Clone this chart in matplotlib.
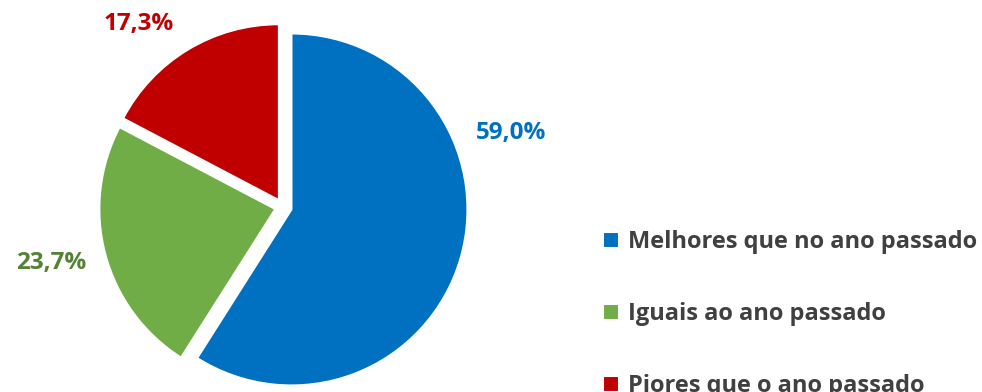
import matplotlib
matplotlib.use("Agg")
import matplotlib.pyplot as plt

categories = ["Melhores que no ano passado", "Iguais ao ano passado", "Piores que o ano passado"]
values = [59.0, 23.7, 17.3]
value_labels = ["59,0%", "23,7%", "17,3%"]
colors = ["#0070C0", "#70AD47", "#C00000"]
label_colors = ["#0070C0", "#548235", "#C00000"]

plt.rcParams['font.family'] = ['Open Sans', 'DejaVu Sans']

W, H = 982, 392
fig = plt.figure(figsize=(W / 100, H / 100), dpi=100)

R = 176.0
cx, cy = 283.0, 207.0
lim = 1.2
side = 2 * lim * R
ax = fig.add_axes([(cx - side / 2) / W, ((H - cy) - side / 2) / H, side / W, side / H])

wedges, _ = ax.pie(values, colors=colors, startangle=90, counterclock=False,
                   explode=[0.05, 0.045, 0.045], radius=1.0,
                   wedgeprops=dict(edgecolor="white", linewidth=1.5))
ax.set_xlim(-lim, lim)
ax.set_ylim(-lim, lim)
ax.set_aspect('equal')
ax.axis('off')

label_pos = [(1.295, 0.42), (-1.318, -0.318), (-0.818, 1.04)]
for (x, y), t, c in zip(label_pos, value_labels, label_colors):
    ax.text(x, y, t, color=c, fontsize=17.5, fontweight='bold', ha='center', va='center')

leg = fig.legend(wedges, categories, loc='upper left',
                 bbox_to_anchor=(603 / W, 1 - 230 / H), frameon=False,
                 fontsize=17, handlelength=0.68, handleheight=0.68,
                 handletextpad=0.4, labelspacing=2.04, borderpad=0, borderaxespad=0)
for t in leg.get_texts():
    t.set_color('#404040')
    t.set_fontweight('bold')

fig.savefig("out.png", dpi=100)
